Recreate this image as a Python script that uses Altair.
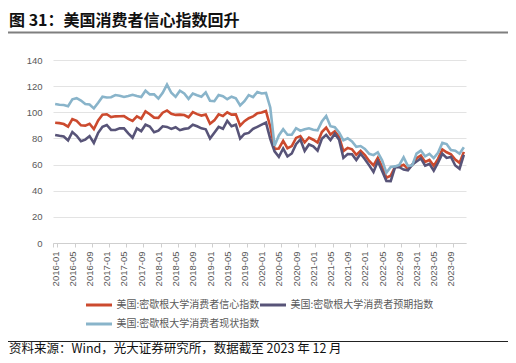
import altair as alt
import pandas as pd

months = [f"{y}-{m:02d}" for y in range(2016, 2024) for m in range(1, 13)]

sentiment = [
    92.0, 91.7, 91.0, 89.0, 94.7, 93.5, 90.0, 89.8, 91.2, 87.2, 93.8, 98.2,
    98.5, 96.3, 96.9, 97.0, 97.1, 95.0, 93.4, 96.8, 95.1, 100.7, 98.5, 95.9,
    95.7, 99.7, 101.4, 98.8, 98.0, 98.2, 97.9, 96.2, 100.1, 98.6, 97.5, 98.3,
    91.2, 93.8, 98.4, 97.2, 100.0, 98.2, 98.4, 89.8, 93.2, 95.5, 96.8, 99.3,
    99.8, 101.0, 89.1, 71.8, 72.3, 78.1, 72.5, 74.1, 80.4, 81.8, 76.9, 80.7,
    79.0, 76.8, 84.9, 88.3, 82.9, 85.5, 81.2, 70.3, 72.8, 71.7, 67.4, 70.6,
    67.2, 62.8, 59.4, 65.2, 58.4, 50.0, 51.5, 58.2, 58.6, 59.9, 56.8, 59.7,
    64.9, 67.0, 62.0, 63.5, 59.0, 64.4, 71.6, 69.4, 67.9, 63.8, 61.3, 69.7,
]
expectations = [
    82.7, 82.0, 81.5, 78.5, 84.9, 82.0, 77.8, 79.1, 81.8, 76.6, 84.3, 88.9,
    90.3, 86.5, 86.5, 87.7, 87.7, 83.9, 80.5, 87.7, 85.6, 90.5, 89.1, 84.7,
    85.9, 89.3, 88.8, 87.3, 88.6, 86.3, 87.3, 87.8, 90.5, 89.3, 87.7, 87.0,
    79.9, 84.4, 88.8, 87.4, 93.5, 89.3, 90.5, 79.9, 83.4, 84.2, 87.3, 88.9,
    90.5, 92.1, 79.7, 70.1, 65.9, 72.3, 66.2, 68.5, 75.6, 79.2, 70.5, 75.4,
    74.0, 70.7, 79.7, 82.7, 78.8, 83.5, 79.0, 65.1, 68.1, 67.9, 63.5, 68.3,
    64.1, 59.4, 54.3, 62.5, 55.2, 47.5, 47.3, 57.9, 58.0, 56.2, 55.6, 59.9,
    62.3, 64.7, 59.2, 60.5, 55.4, 61.5, 68.3, 65.1, 65.8, 59.3, 56.8, 67.4,
]
current = [
    106.4, 105.8, 105.6, 104.6, 109.9, 110.8, 109.0, 106.3, 106.0, 103.0, 107.3, 111.9,
    111.3, 111.5, 113.2, 112.7, 111.7, 112.5, 113.4, 112.4, 111.7, 116.5, 113.7, 113.8,
    110.5, 114.9, 121.2, 114.9, 111.8, 116.5, 114.4, 110.3, 114.4, 113.1, 111.9, 115.2,
    108.8, 108.5, 113.3, 112.3, 110.0, 111.9, 110.7, 105.3, 108.5, 113.2, 111.6, 115.5,
    114.4, 114.8, 103.7, 74.3, 82.3, 87.1, 82.8, 82.9, 87.8, 85.9, 87.0, 87.8,
    86.7, 86.2, 93.0, 97.2, 89.4, 88.6, 84.5, 78.5, 80.1, 77.7, 73.6, 74.2,
    72.0, 68.2, 67.2, 69.4, 63.3, 53.8, 58.1, 58.6, 59.7, 65.6, 58.8, 59.4,
    68.4, 70.7, 66.3, 68.2, 64.9, 69.0, 76.6, 75.7, 71.1, 70.6, 68.3, 73.3,
]

names = [
    "美国:密歇根大学消费者信心指数",
    "美国:密歇根大学消费者预期指数",
    "美国:密歇根大学消费者现状指数",
]
colors = ["#CC4A2E", "#585478", "#89B4CA"]
y_ticks = [0, 20, 40, 60, 80, 100, 120, 140]
x_labels = months[::4]

title_text = "图 31：美国消费者信心指数回升"
source_text = "资料来源：Wind，光大证券研究所，数据截至 2023 年 12 月"

rows = []
for name, vals in zip(names, [sentiment, expectations, current]):
    for m, v in zip(months, vals):
        rows.append({"month": m, "series": name, "value": v})
df = pd.DataFrame(rows)

CJK = "Noto Sans CJK SC"
LAT = "Liberation Sans"

lines = alt.Chart(df).mark_line(strokeWidth=2.6).encode(
    x=alt.X(
        "month:O",
        sort=months,
        scale=alt.Scale(type="band", paddingInner=0, paddingOuter=0),
        axis=alt.Axis(
            title=None,
            values=x_labels,
            labelAngle=270,
            tickBand="extent",
            tickSize=4,
            tickColor="#CFCFCF",
            domainColor="#CFCFCF",
            labelPadding=4,
            labelFont=LAT,
            labelFontSize=9.5,
            labelColor="#595959",
            grid=False,
        ),
    ),
    y=alt.Y(
        "value:Q",
        scale=alt.Scale(domain=[0, 140], nice=False),
        axis=alt.Axis(
            title=None,
            values=y_ticks,
            ticks=False,
            domain=False,
            labelPadding=11,
            labelFont=LAT,
            labelFontSize=9.5,
            labelColor="#595959",
            gridColor="#E3E3E3",
            gridWidth=1,
        ),
    ),
    color=alt.Color(
        "series:N",
        sort=names,
        scale=alt.Scale(domain=names, range=colors),
        legend=alt.Legend(
            title=None,
            orient="none",
            legendX=38,
            legendY=237,
            direction="horizontal",
            columns=2,
            symbolType="M-2,0H2",
            symbolSize=169,
            symbolStrokeWidth=3,
            labelOffset=9.5,
            columnPadding=-6,
            rowPadding=5,
            labelFont=CJK,
            labelFontSize=10,
            labelColor="#595959",
        ),
    ),
)

title_df = pd.DataFrame({"t": [title_text]})
source_df = pd.DataFrame({"t": [source_text]})

title = alt.Chart(title_df).mark_text(
    align="left", baseline="middle", font=CJK, fontSize=16, fontWeight="bold", color="#111111"
).encode(x=alt.value(-44), y=alt.value(-39.5), text="t:N")

source = alt.Chart(source_df).mark_text(
    align="left", baseline="middle", font=CJK, fontSize=12.5, color="#111111"
).encode(x=alt.value(-44), y=alt.value(288.5), text="t:N")

title_rule = alt.Chart(title_df).mark_rule(color="#7F7F7F", strokeWidth=2).encode(
    x=alt.value(-45), x2=alt.value(455), y=alt.value(-27.5)
)
source_rule = alt.Chart(source_df).mark_rule(color="#222222", strokeWidth=1).encode(
    x=alt.value(-45), x2=alt.value(455), y=alt.value(281.5)
)

chart = alt.layer(lines, title_rule, title, source_rule, source).properties(
    width=413,
    height=183,
    autosize=alt.AutoSizeParams(type="none"),
    padding={"left": 45, "top": 52, "right": 42, "bottom": 112},
).configure_view(stroke=None)

chart.save("out.html", embed_options={"renderer": "svg", "actions": False})
